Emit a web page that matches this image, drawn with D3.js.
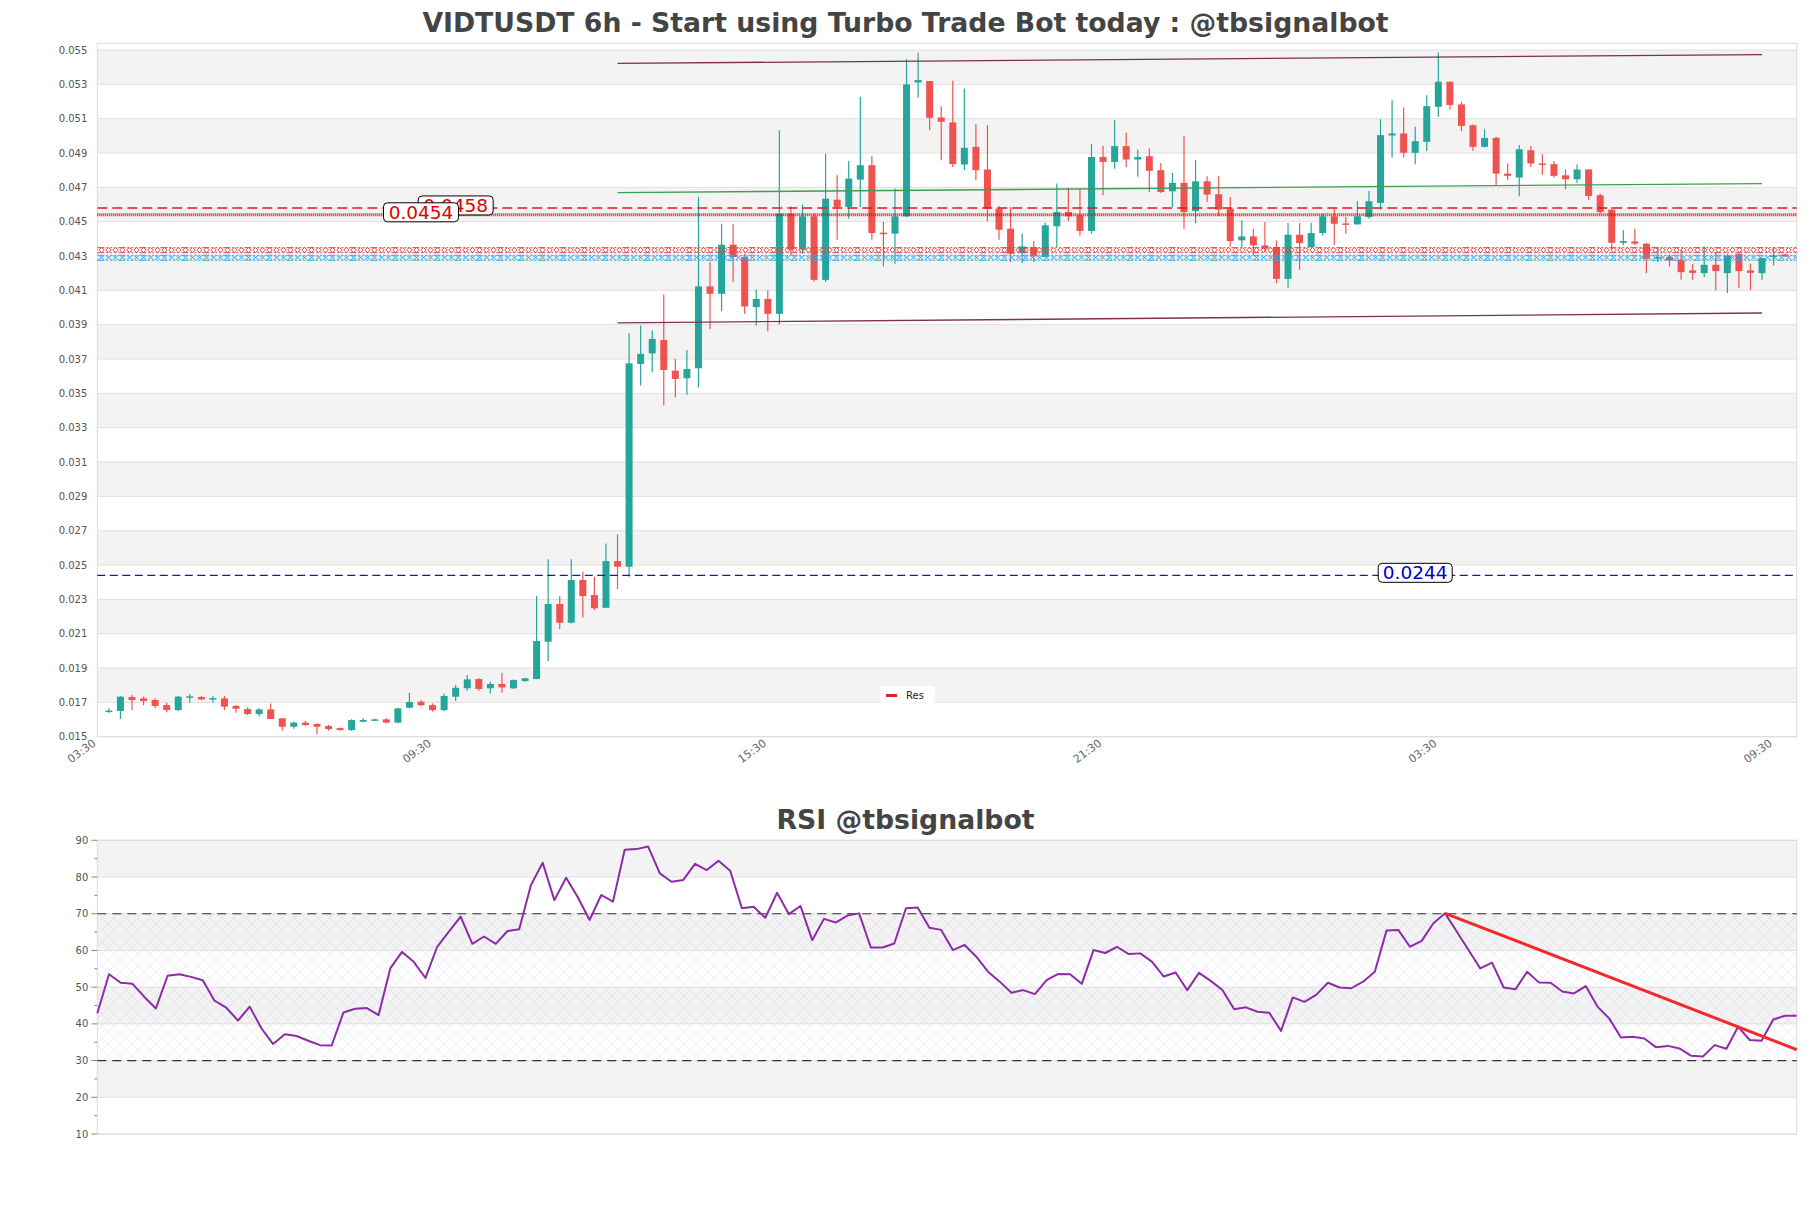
<!DOCTYPE html>
<html><head><meta charset="utf-8">
<script src="https://cdn.jsdelivr.net/npm/d3@7"></script>
<style>body{margin:0;background:#fff}svg{display:block}</style>
</head><body>
<svg id="c" width="1811" height="1208"></svg>
<script>
// ---------------- DATA ----------------
const opens  = [.01648,.0165,.01731,.01723,.01714,.01684,.01655,.01729,.01731,.01721,.01723,.01679,.01661,.01632,.01659,.01607,.01558,.01582,.01574,.01562,.0155,.01539,.01587,.01599,.01601,.01582,.01669,.01704,.01684,.01655,.01733,.01782,.01836,.01782,.01807,.01782,.01824,.01836,.02053,.02273,.02164,.02413,.02325,.02251,.02523,.0249,.03671,.03733,.03811,.03632,.03588,.03646,.04123,.0408,.04366,.04294,.04002,.0405,.03963,.04547,.04337,.04531,.04161,.04628,.04586,.04745,.04829,.04436,.0443,.04531,.05311,.05319,.05107,.05078,.04833,.04936,.04804,.04576,.04459,.04317,.04352,.04294,.04473,.04556,.04537,.04446,.04877,.04848,.0494,.04862,.04881,.048,.04677,.04726,.04562,.04735,.0466,.04576,.04391,.04414,.04362,.04352,.04167,.04424,.04352,.04434,.04531,.0449,.04484,.04527,.04609,.05002,.05014,.04901,.04965,.05169,.05315,.05183,.05062,.04936,.04988,.0478,.04757,.04916,.04839,.04835,.0477,.04747,.04804,.04654,.0457,.04377,.04385,.04372,.04288,.04294,.04278,.04216,.042,.04249,.042,.04313,.04216,.042,.04294,.04309];
const highs  = [.01665,.01737,.01743,.01733,.01723,.01698,.01737,.01748,.01737,.01737,.01737,.01684,.01671,.01665,.01694,.01607,.01587,.01593,.01578,.01568,.01554,.01601,.01607,.01605,.01607,.01669,.01756,.01714,.01694,.01752,.01801,.01859,.0184,.0182,.01873,.01834,.01844,.02319,.02533,.02319,.02533,.02461,.02432,.02626,.02679,.0385,.03895,.03866,.04076,.037,.03753,.04644,.04265,.04488,.04488,.04313,.04103,.04099,.05033,.0459,.04601,.04547,.04897,.0477,.04854,.05228,.04881,.04498,.04693,.05446,.05484,.05319,.05173,.05321,.05276,.05068,.05062,.0459,.04586,.0443,.04387,.04494,.04722,.04698,.04693,.04951,.04942,.05091,.05018,.0492,.04926,.04842,.04784,.04998,.04858,.04765,.04765,.04644,.04508,.04459,.04498,.04391,.04492,.04492,.04492,.04547,.04576,.04527,.04619,.04679,.05097,.05208,.05165,.05053,.05237,.05486,.05315,.05198,.05066,.05039,.04994,.04839,.04946,.04942,.04893,.04852,.04804,.04833,.04804,.04663,.04586,.0445,.04459,.04375,.04352,.04309,.04337,.04255,.04356,.04323,.04313,.04313,.04255,.04288,.04352,.04313];
const lows   = [.0164,.01603,.01655,.01684,.01665,.01642,.0165,.01698,.01714,.01698,.01655,.0164,.01626,.01617,.01603,.01535,.01547,.01564,.01514,.01535,.01535,.01533,.01582,.01595,.01578,.01578,.01665,.01679,.01646,.0165,.01708,.01768,.01768,.01752,.01756,.01778,.0182,.01834,.01941,.02127,.0216,.02195,.02238,.02248,.0236,.02432,.03545,.03623,.0343,.03477,.03492,.03535,.03875,.03979,.04148,.03963,.03895,.03862,.03901,.04304,.04313,.04152,.04148,.04395,.04518,.04586,.04395,.04239,.04255,.04527,.05224,.05033,.04858,.04819,.048,.04741,.04502,.04395,.04265,.04259,.04265,.04294,.04352,.04504,.0442,.0443,.04654,.04809,.04819,.04761,.04673,.04667,.04586,.04459,.04492,.04615,.04531,.04356,.04352,.04309,.04323,.04142,.04115,.0422,.04348,.0442,.04362,.0443,.04484,.04518,.0457,.04874,.04874,.04835,.04912,.05111,.05154,.05027,.04912,.04932,.04712,.04741,.04648,.04819,.04774,.04757,.04689,.04726,.04628,.04547,.04337,.04362,.04362,.042,.04265,.04239,.04161,.04161,.04177,.04099,.04084,.04115,.04103,.04161,.04245,.04294];
const closes = [.01652,.01733,.01714,.01708,.01679,.01655,.01733,.01735,.01717,.01725,.01675,.01663,.01632,.01659,.01603,.01558,.01582,.01568,.01558,.01545,.01539,.01597,.01597,.01601,.01582,.01665,.01702,.01683,.01655,.01737,.01785,.01834,.01778,.01807,.01787,.0183,.0184,.02057,.02273,.02164,.02413,.02319,.02248,.02523,.0249,.03675,.0373,.03817,.03636,.03584,.03642,.04123,.0408,.04366,.04294,.04006,.0405,.03963,.04547,.04337,.04531,.04161,.04634,.04586,.04751,.04829,.04434,.0443,.04531,.053,.05325,.05105,.05082,.04835,.0493,.048,.04576,.04453,.04313,.04356,.04298,.04479,.04556,.04531,.04446,.04877,.04848,.0494,.04862,.04877,.04796,.04673,.04726,.04556,.04735,.04658,.0457,.04387,.04414,.04362,.04342,.04167,.04424,.04375,.04434,.04531,.04488,.04486,.04531,.04619,.05004,.05014,.04901,.04969,.05173,.05315,.05179,.05058,.04936,.04988,.0478,.04767,.04922,.04839,.04831,.04767,.04747,.04804,.0465,.04556,.04377,.04387,.04372,.04284,.04294,.04274,.04206,.04202,.04249,.04212,.04303,.04212,.04202,.04288,.04303,.04298];

const rsiValues = [42.9,53.5,51.2,50.9,47.4,44.2,53.1,53.5,52.8,51.9,46.3,44.4,40.9,44.7,38.8,34.5,37.2,36.7,35.4,34.2,34.1,43.1,44.1,44.3,42.4,55.1,59.6,56.9,52.5,61.0,65.1,69.2,61.8,63.8,61.8,65.3,65.8,77.8,83.9,73.7,79.8,74.5,68.3,75.1,73.3,87.4,87.6,88.3,81.0,78.7,79.2,83.6,81.9,84.4,81.7,71.5,71.9,68.9,75.7,69.9,72.1,62.8,68.6,67.6,69.5,70.1,60.8,60.8,61.9,71.5,71.7,66.2,65.6,60.1,61.5,58.3,54.2,51.5,48.5,49.2,48.1,51.9,53.6,53.5,50.9,60.1,59.3,61.0,59.0,59.2,56.9,52.9,54.0,49.2,53.9,51.7,49.2,44.0,44.5,43.3,43.0,38.1,47.2,46.0,47.9,51.2,49.9,49.7,51.5,54.2,65.4,65.6,61.0,62.6,67.4,70.1,65.1,60.1,55.1,56.7,49.9,49.4,54.2,51.3,51.2,48.8,48.3,50.3,44.7,41.5,36.3,36.5,36.0,33.6,34.0,33.3,31.3,31.1,34.2,33.2,39.2,35.6,35.4,41.2,42.2,42.2];

const priceTicks = [0.015,0.017,0.019,0.021,0.023,0.025,0.027,0.029,0.031,0.033,0.035,0.037,0.039,0.041,0.043,0.045,0.047,0.049,0.051,0.053,0.055];
const rsiTicks = [10,20,30,40,50,60,70,80,90];
const rsiMinorTicks = [15,25,35,45,55,65,75,85];
const xTickIndex = [-1,28,57,86,115,144];
const xTickLabels = ["03:30","09:30","15:30","21:30","03:30","09:30"];

const dashedLevel = 0.0458;     // red dashed
const dottedLevel = 0.0454;     // red dotted
const supportLevel = 0.0244;    // navy dashed
const hatchRedLevel = 0.04334;
const hatchBlueLevel = 0.0429;
const levelLabelIndex = [30, 27, 113]; // candle index where the 0.0458, 0.0454, 0.0244 tags sit

const channelIndex = [44, 143];
const channelUpper = [0.05422, 0.05473];
const channelMiddle = [0.04669, 0.04722];
const channelLower = [0.0391, 0.03968];

const rsiTrendIndex = [115, 145];
const rsiTrendValue = [70.1, 33.0];
const rsiBands = [30, 70];

const title = "VIDTUSDT 6h - Start using Turbo Trade Bot today : @tbsignalbot";
const rsiTitle = "RSI @tbsignalbot";
const legendLabel = "Res";

// ---------------- LAYOUT ----------------
const svg = d3.select("#c");
const L = 97.3, R = 1796.7, T = 43.3, B = 736.7;
const RT = 840.3, RB = 1134;
const FONT = "'DejaVu Sans', Verdana, sans-serif";

const x = d3.scaleLinear().domain([-1, 146]).range([L, R]);
const y = d3.scaleLinear().domain([0.015, 0.055]).range([B, 50]);
const rx = d3.scaleLinear().domain([0, 145]).range([L, R]);
const ry = d3.scaleLinear().domain([10, 90]).range([RB, RT]);

const defs = svg.append("defs");
const hp = defs.append("pattern").attr("id","hatch").attr("width",12).attr("height",12)
  .attr("patternUnits","userSpaceOnUse");
hp.append("path").attr("d","M0,0L12,12M12,0L0,12M-6,6L6,18M6,-6L18,6M-6,6L6,-6M6,18L18,6")
  .attr("stroke","rgba(160,130,190,0.22)").attr("stroke-width",0.7).attr("fill","none");
function xPat(id, col){
  const p = defs.append("pattern").attr("id",id).attr("width",7).attr("height",5)
    .attr("patternUnits","userSpaceOnUse");
  p.append("path").attr("d","M0.5,0L6.5,5M6.5,0L0.5,5").attr("stroke",col).attr("stroke-width",1).attr("fill","none");
}
xPat("xr","#e2453f"); xPat("xb","#2ea3dc");

// titles
svg.append("text").attr("x", 905.5).attr("y", 32).attr("text-anchor","middle")
  .attr("font-family",FONT).attr("font-weight","bold").attr("font-size",26.7).attr("fill","#444").text(title);
svg.append("text").attr("x", 905.5).attr("y", 829).attr("text-anchor","middle")
  .attr("font-family",FONT).attr("font-weight","bold").attr("font-size",26.7).attr("fill","#444").text(rsiTitle);

// ---------- main chart ----------
const g = svg.append("g");
for (let k = 0; k < priceTicks.length - 1; k++) {
  if (k % 2 === 1) g.append("rect").attr("x",L).attr("width",R-L)
    .attr("y",y(priceTicks[k+1])).attr("height",y(priceTicks[k])-y(priceTicks[k+1])).attr("fill","#f3f3f3");
}
g.selectAll(".gl").data(priceTicks).enter().append("line")
  .attr("x1",L).attr("x2",R).attr("y1",d=>y(d)).attr("y2",d=>y(d)).attr("stroke","#e0e0e0").attr("stroke-width",1);
g.append("rect").attr("x",L).attr("y",T).attr("width",R-L).attr("height",B-T)
  .attr("fill","none").attr("stroke","#dcdcdc");
g.selectAll(".yl").data(priceTicks).enter().append("text")
  .attr("x",L-10).attr("y",d=>y(d)).attr("dy","0.35em").attr("text-anchor","end")
  .attr("font-family",FONT).attr("font-size",10).attr("fill","#555").text(d3.format(".3f"));
g.selectAll(".xl").data(xTickIndex).enter().append("text")
  .attr("transform",d=>`translate(${x(d)-3},${B+5}) rotate(-36)`).attr("dy","0.35em").attr("text-anchor","end")
  .attr("font-family",FONT).attr("font-size",11).attr("fill","#666").text((d,i)=>xTickLabels[i]);

// candles
const idx = d3.range(opens.length);
const cg = g.append("g");
cg.selectAll(".wick").data(idx).enter().append("line")
  .attr("x1",i=>x(i)).attr("x2",i=>x(i)).attr("y1",i=>y(highs[i])).attr("y2",i=>y(lows[i]))
  .attr("stroke",i=>closes[i]>=opens[i]?"#26a69a":"#ef5350").attr("stroke-width",1.2);
cg.selectAll(".body").data(idx).enter().append("rect")
  .attr("x",i=>x(i)-3.5).attr("width",7)
  .attr("y",i=>y(Math.max(opens[i],closes[i])))
  .attr("height",i=>Math.max(1.5, Math.abs(y(opens[i])-y(closes[i]))))
  .attr("fill",i=>closes[i]>=opens[i]?"#26a69a":"#ef5350");

// channel
const chLine = (vals,col)=> g.append("line").attr("x1",x(channelIndex[0])).attr("x2",x(channelIndex[1]))
  .attr("y1",y(vals[0])).attr("y2",y(vals[1])).attr("stroke",col).attr("stroke-width",1.3);
chLine(channelUpper,"#7d2f55"); chLine(channelLower,"#7d2f55"); chLine(channelMiddle,"#3c9f52");

// levels
function hline(v, col, w, dash){
  return g.append("line").attr("x1",L).attr("x2",R).attr("y1",y(v)).attr("y2",y(v))
    .attr("stroke",col).attr("stroke-width",w).attr("stroke-dasharray",dash);
}
hline(dashedLevel,"#e01b1b",1.4,"10,5");
hline(dottedLevel,"#e01010",3,"1,1");
hline(supportLevel,"#1a1a9c",1.4,"8,4.5");
function hatchLine(v, pat, col){
  g.append("rect").attr("x",L).attr("width",R-L).attr("y",y(v)-2.5).attr("height",5).attr("fill",`url(#${pat})`);
  hline(v-0.000146,col,1,"7,2,2,2,2,2,2,2");
  hline(v+0.000146,col,1,"7,2,2,2,2,2,2,2");
}
hatchLine(hatchRedLevel,"xr","#e2453f");
hatchLine(hatchBlueLevel,"xb","#2ea3dc");

// level tags
function tag(v, at, col, w){
  const cx = x(at), cy = y(v) - 2.5;
  g.append("rect").attr("x",cx-w/2).attr("y",cy-9.5).attr("width",w).attr("height",19)
    .attr("rx",4).attr("fill","#fff").attr("stroke","#000").attr("stroke-width",1);
  g.append("text").attr("x",cx).attr("y",cy).attr("dy","0.36em").attr("text-anchor","middle")
    .attr("font-family",FONT).attr("font-size",18.5).attr("fill",col).text(String(v));
}
tag(dashedLevel, levelLabelIndex[0], "#e00000", 75);
tag(dottedLevel, levelLabelIndex[1], "#e00000", 75);
tag(supportLevel, levelLabelIndex[2], "#0000cc", 74);

// legend
const lg = g.append("g");
lg.append("rect").attr("x",880).attr("y",686).attr("width",55).attr("height",17).attr("rx",3).attr("fill","#fff");
lg.append("line").attr("x1",886).attr("x2",897).attr("y1",695.5).attr("y2",695.5).attr("stroke","#d62728").attr("stroke-width",3);
lg.append("text").attr("x",906).attr("y",695.5).attr("dy","0.35em").attr("font-family",FONT).attr("font-size",10).attr("fill","#222").text(legendLabel);

// ---------- RSI ----------
const r = svg.append("g");
for (let k = 0; k < rsiTicks.length - 1; k++) {
  if (k % 2 === 1) r.append("rect").attr("x",L).attr("width",R-L)
    .attr("y",ry(rsiTicks[k+1])).attr("height",ry(rsiTicks[k])-ry(rsiTicks[k+1])).attr("fill","#f3f3f3");
}
r.append("rect").attr("x",L).attr("width",R-L).attr("y",ry(rsiBands[1])).attr("height",ry(rsiBands[0])-ry(rsiBands[1]))
  .attr("fill","url(#hatch)");
r.selectAll(".gl").data(rsiTicks).enter().append("line")
  .attr("x1",L).attr("x2",R).attr("y1",d=>ry(d)).attr("y2",d=>ry(d)).attr("stroke","#e0e0e0");
r.append("rect").attr("x",L).attr("y",RT).attr("width",R-L).attr("height",RB-RT).attr("fill","none").attr("stroke","#dcdcdc");
r.selectAll(".tk").data(rsiTicks).enter().append("line")
  .attr("x1",L-6).attr("x2",L).attr("y1",d=>ry(d)).attr("y2",d=>ry(d)).attr("stroke","#888");
r.selectAll(".mtk").data(rsiMinorTicks).enter().append("line")
  .attr("x1",L-3).attr("x2",L).attr("y1",d=>ry(d)).attr("y2",d=>ry(d)).attr("stroke","#888");
r.selectAll(".yl").data(rsiTicks).enter().append("text")
  .attr("x",L-9).attr("y",d=>ry(d)).attr("dy","0.35em").attr("text-anchor","end")
  .attr("font-family",FONT).attr("font-size",10).attr("fill","#555").text(d=>d);
rsiBands.forEach(v=> r.append("line").attr("x1",L).attr("x2",R).attr("y1",ry(v)).attr("y2",ry(v))
  .attr("stroke","#333").attr("stroke-width",1.2).attr("stroke-dasharray","9,6"));
r.append("path").datum(rsiValues)
  .attr("d", d3.line().x((d,i)=>rx(i)).y(d=>ry(d)))
  .attr("fill","none").attr("stroke","#8e2ca8").attr("stroke-width",2).attr("stroke-linejoin","round");
r.append("line").attr("x1",rx(rsiTrendIndex[0])).attr("x2",rx(rsiTrendIndex[1]))
  .attr("y1",ry(rsiTrendValue[0])).attr("y2",ry(rsiTrendValue[1]))
  .attr("stroke","#f22a2a").attr("stroke-width",3);
</script>
</body></html>
